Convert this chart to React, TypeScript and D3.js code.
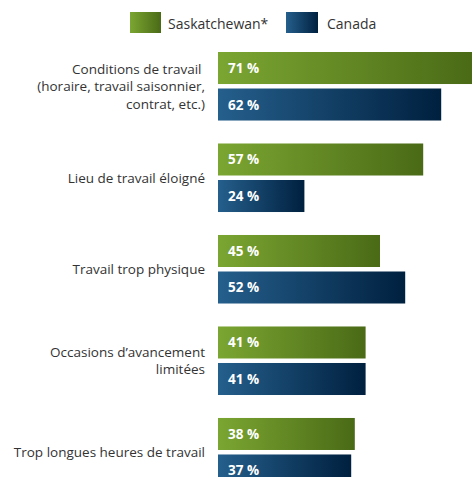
import React from "react";
import * as d3 from "d3";

const categories: string[][] = [
  ["Conditions de travail ", "(horaire, travail saisonnier,", "contrat, etc.)"],
  ["Lieu de travail éloigné"],
  ["Travail trop physique"],
  ["Occasions d’avancement", "limitées"],
  ["Trop longues heures de travail"],
];
const seriesNames = ["Saskatchewan*", "Canada"];
const saskatchewan = [71, 57, 45, 41, 38];
const canada = [62, 24, 52, 41, 37];

const W = 472;
const H = 477;
const FONT = "'Open Sans', sans-serif";

export default function App() {
  const keys = categories.map((_, i) => String(i));
  const x = d3.scaleLinear().domain([0, 100]).range([218, 578]);
  const y = d3.scaleBand<string>().domain(keys).range([52, 486.5]).paddingInner(0.251).paddingOuter(0);
  const inner = d3.scaleBand<string>().domain(["sk", "ca"]).range([0, y.bandwidth()]).paddingInner(0.123);
  const series = [
    { key: "sk", values: saskatchewan, grad: "gGreen" },
    { key: "ca", values: canada, grad: "gBlue" },
  ];
  const lineH = 17.5;

  return (
    <svg width={W} height={H} style={{ position: "absolute", left: 0, top: 0 }} fontFamily={FONT}>
      <defs>
        <linearGradient id="gGreen" x1="0" y1="0" x2="1" y2="0">
          <stop offset="0" stopColor="#7ba632" />
          <stop offset="1" stopColor="#4a6a16" />
        </linearGradient>
        <linearGradient id="gBlue" x1="0" y1="0" x2="1" y2="0">
          <stop offset="0" stopColor="#255f8c" />
          <stop offset="1" stopColor="#00203f" />
        </linearGradient>
      </defs>

      {/* legend */}
      <g>
        <rect x={130} y={12} width={31} height={21} fill="url(#gGreen)" />
        <text x={168} y={29} fontSize={14} fill="#333">{seriesNames[0]}</text>
        <rect x={286} y={12} width={32} height={21} fill="url(#gBlue)" />
        <text x={327} y={29} fontSize={14} fill="#333">{seriesNames[1]}</text>
      </g>

      {categories.map((lines, i) => {
        const g0 = y(keys[i])!;
        const center = g0 + y.bandwidth() / 2;
        const firstBase = center + 5 - ((lines.length - 1) * lineH) / 2;
        return (
          <g key={i}>
            <text textAnchor="end" fontSize={13.5} fill="#333">
              {lines.map((l, j) => (
                <tspan key={j} x={205} y={firstBase + j * lineH} style={{ whiteSpace: "pre" }}>
                  {l}
                </tspan>
              ))}
            </text>
            {series.map((s) => {
              const by = g0 + inner(s.key)!;
              const v = s.values[i];
              return (
                <g key={s.key}>
                  <rect x={x(0)} y={by} width={x(v) - x(0)} height={inner.bandwidth()} fill={`url(#${s.grad})`} />
                  <text x={x(0) + 10} y={by + 21} fontSize={13.5} fontWeight="bold" fill="#fff">
                    {`${v} %`}
                  </text>
                </g>
              );
            })}
          </g>
        );
      })}
    </svg>
  );
}
